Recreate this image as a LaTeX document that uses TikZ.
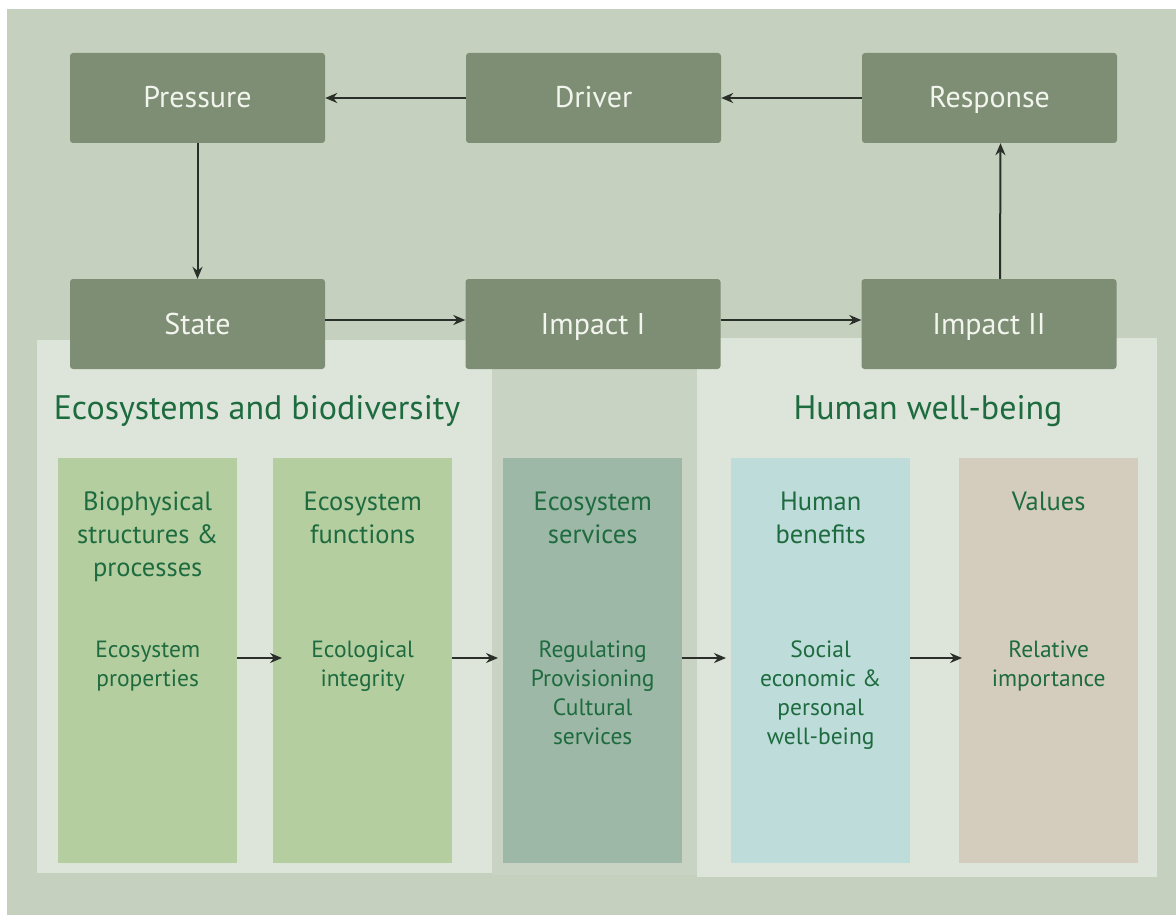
\documentclass[tikz,border=0pt]{standalone}
\usepackage{fontspec}
\setmainfont{PT Sans}
\usetikzlibrary{arrows.meta}

\definecolor{bgpanel}{HTML}{C5D1BE}
\definecolor{boxgreen}{HTML}{7E8E74}
\definecolor{boxtext}{HTML}{F2F5EE}
\definecolor{lightpanel}{HTML}{DDE5DA}
\definecolor{midpanel}{HTML}{C9D3C3}
\definecolor{colgreen}{HTML}{B5CEA0}
\definecolor{colservice}{HTML}{9DB8A6}
\definecolor{colbenefit}{HTML}{BEDCD9}
\definecolor{colvalue}{HTML}{D4CCBC}
\definecolor{textgreen}{HTML}{1D6B3F}
\definecolor{arrowgray}{HTML}{2B2F2A}

\tikzset{
  dpsir/.style={fill=boxgreen, rounded corners=3pt, minimum width=255pt, minimum height=90pt,
    inner sep=0pt, text=boxtext, text height=22pt, text depth=2pt,
    font=\fontsize{30}{34}\selectfont},
  colbox/.style={minimum width=179pt, minimum height=405pt, inner sep=0pt, anchor=north west},
  coltitle/.style={text=textgreen, align=center, anchor=north, inner sep=0pt,
    font=\fontsize{26.5}{33}\selectfont},
  colbody/.style={text=textgreen, align=center, anchor=north, inner sep=0pt,
    font=\fontsize{23.5}{29}\selectfont},
  heading/.style={text=textgreen, anchor=base, inner sep=0pt, font=\fontsize{34}{38}\selectfont},
  flow/.style={draw=arrowgray, line width=2pt, -{Stealth[length=12pt,width=10pt]}},
}

\begin{document}
\begin{tikzpicture}[x=1pt,y=-1pt]
        \useasboundingbox (0,0) rectangle (1176,915);
        \fill[white] (0,0) rectangle (1176,915);
        \fill[bgpanel] (7,9) rectangle (1176,915);

        % panels behind the lower part
        \fill[lightpanel] (37,340) rectangle (492,873);
        \fill[midpanel] (492,340) rectangle (697,875);
        \fill[lightpanel] (697,338) rectangle (1157,877);

        \node[heading] (ecohead) at (257,419) {Ecosystems and biodiversity};
        \node[heading] (humanhead) at (928,419) {Human well-being};

        \node[dpsir] (pressure) at (197.5,98) {Pressure};
        \node[dpsir] (driver) at (593.5,98) {Driver};
        \node[dpsir] (response) at (989.5,98) {Response};
        \node[dpsir] (state) at (197.5,324) {State};
        \node[dpsir] (impact1) at (593,324) {Impact I};
        \node[dpsir] (impact2) at (989,324) {Impact II};

        \draw[flow] (driver) -- (pressure);
        \draw[flow] (response) -- (driver);
        \draw[flow] (pressure) -- (state);
        \draw[flow] ([yshift=4pt]state.east) -- ([yshift=4pt]impact1.west);
        \draw[flow] ([yshift=4pt]impact1.east) -- ([yshift=4pt]impact2.west);
        \draw[flow] ([xshift=11pt]impact2.north) -- ([xshift=11pt]response.south);

        \node[colbox, fill=colgreen] (c1) at (58,458) {};
        \node[colbox, fill=colgreen] (c2) at (273,458) {};
        \node[colbox, fill=colservice] (c3) at (503,458) {};
        \node[colbox, fill=colbenefit] (c4) at (731,458) {};
        \node[colbox, fill=colvalue] (c5) at (959,458) {};

        \node[coltitle] (t1) at ([yshift=-34pt]c1.north) {Biophysical\\structures \&\\processes};
        \node[coltitle] (t2) at ([yshift=-34pt]c2.north) {Ecosystem\\functions};
        \node[coltitle] (t3) at ([yshift=-34pt]c3.north) {Ecosystem\\services};
        \node[coltitle] (t4) at ([yshift=-34pt]c4.north) {Human\\benefits};
        \node[coltitle] (t5) at ([yshift=-34pt]c5.north) {Values};

        \node[colbody] (b1) at ([yshift=-183pt]c1.north) {Ecosystem\\properties};
        \node[colbody] (b2) at ([yshift=-183pt]c2.north) {Ecological\\integrity};
        \node[colbody] (b3) at ([yshift=-183pt]c3.north) {Regulating\\Provisioning\\Cultural\\services};
        \node[colbody] (b4) at ([yshift=-183pt]c4.north) {Social\\economic \&\\personal\\well-being};
        \node[colbody] (b5) at ([yshift=-183pt]c5.north) {Relative\\importance};

        \coordinate (arrowy) at (0,658);
        \draw[flow] (c1.east |- arrowy) -- ([xshift=9pt]c2.west |- arrowy);
        \draw[flow] (c2.east |- arrowy) -- ([xshift=-5pt]c3.west |- arrowy);
        \draw[flow] (c3.east |- arrowy) -- ([xshift=-5pt]c4.west |- arrowy);
        \draw[flow] (c4.east |- arrowy) -- ([xshift=3pt]c5.west |- arrowy);

    \end{tikzpicture}
\end{document}
